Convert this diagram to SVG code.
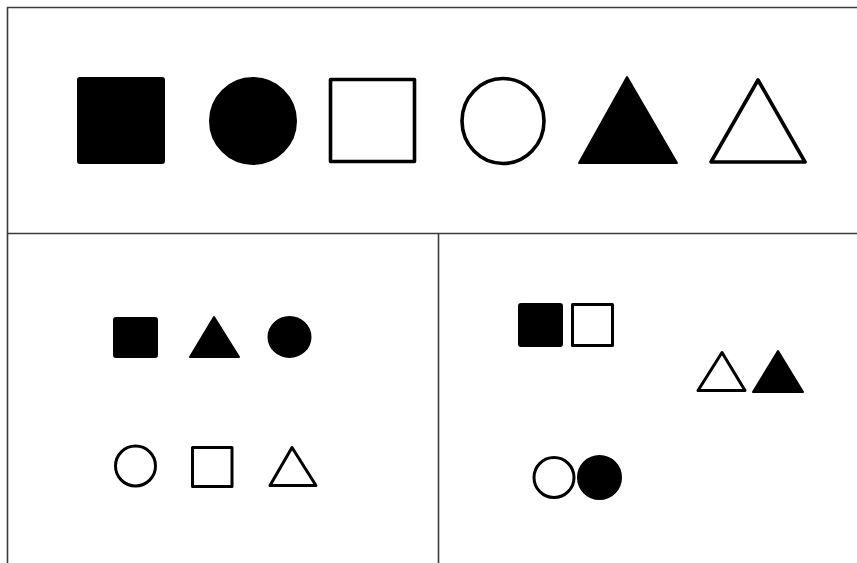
<svg xmlns="http://www.w3.org/2000/svg" width="857" height="563" viewBox="0 0 857 563">
<style>
.frame{stroke:#3a3a3a;stroke-width:1.6;fill:none}
.f{fill:#000;stroke:#000;stroke-width:2;stroke-linejoin:round}
.o{fill:#fff;stroke:#000;stroke-width:3.6;stroke-linejoin:round}
.os{fill:#fff;stroke:#000;stroke-width:3;stroke-linejoin:round}
</style>
<rect width="857" height="563" fill="#fff"/>
<g id="frame">
<line class="frame" x1="7" y1="7.5" x2="857" y2="7.5"/>
<line class="frame" x1="7.5" y1="7" x2="7.5" y2="563"/>
<line class="frame" x1="7" y1="233.5" x2="857" y2="233.5"/>
<line class="frame" x1="438.5" y1="233" x2="438.5" y2="563"/>
</g>
<g id="top-row">
<rect id="t-sq-f" class="f" x="78" y="78" width="86" height="85" rx="2"/>
<ellipse id="t-ci-f" class="f" cx="253" cy="121" rx="43" ry="43"/>
<rect id="t-sq-o" class="o" x="330.5" y="79.5" width="84" height="82"/>
<ellipse id="t-ci-o" class="o" cx="503" cy="121" rx="41" ry="42.5"/>
<polygon id="t-tr-f" class="f" points="627,77 677,163 579,163"/>
<polygon id="t-tr-o" class="o" points="758,80 805,162 711,162"/>
</g>
<g id="bottom-left">
<rect id="bl-sq-f" class="f" x="114" y="318" width="43" height="39" rx="2"/>
<polygon id="bl-tr-f" class="f" points="214,317 239,357 190,357"/>
<ellipse id="bl-ci-f" class="f" cx="289.5" cy="337" rx="21" ry="20"/>
<circle id="bl-ci-o" class="os" cx="135.5" cy="466" r="20"/>
<rect id="bl-sq-o" class="os" x="192.5" y="447.5" width="39.5" height="39"/>
<polygon id="bl-tr-o" class="os" points="292,447.5 316,485.5 270,485.5"/>
</g>
<g id="bottom-right">
<rect id="br-sq-f" class="f" x="519" y="304" width="43" height="42" rx="2"/>
<rect id="br-sq-o" class="os" x="572.5" y="304.5" width="40" height="41"/>
<polygon id="br-tr-o" class="os" points="722,352.5 745,390.5 698,390.5"/>
<polygon id="br-tr-f" class="f" points="778,351 803,392 753,392"/>
<circle id="br-ci-o" class="os" cx="554" cy="477.5" r="20"/>
<circle id="br-ci-f" class="f" cx="599.5" cy="477.5" r="21.5"/>
</g>
</svg>
